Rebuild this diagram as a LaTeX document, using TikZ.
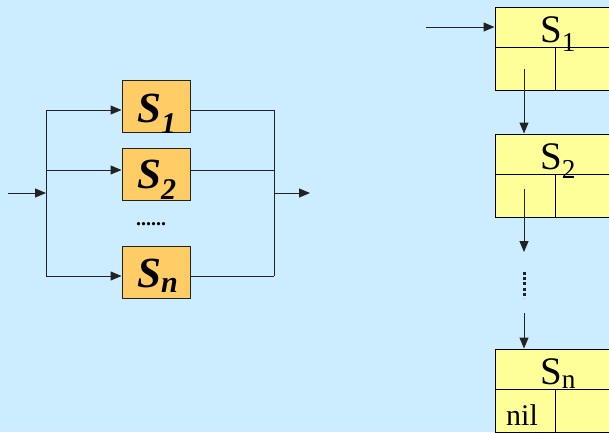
\documentclass[tikz,border=0pt]{standalone}
\usepackage{fontspec}
\setmainfont{Liberation Serif}
\usetikzlibrary{arrows.meta,calc}
\definecolor{bg}{HTML}{CCECFF}
\definecolor{obox}{HTML}{FFCC66}
\definecolor{ybox}{HTML}{FFFF99}
\definecolor{ln}{HTML}{222222}
\begin{document}
\begin{tikzpicture}[x=1pt,y=-1pt,
  conn/.style={draw=ln,line width=1pt},
  arr/.style={conn,-{Triangle[length=11pt,width=9pt]}},
  sbox/.style={draw=ln,line width=1pt,fill=obox,minimum width=68pt,minimum height=52pt,inner sep=0pt},
  slab/.style={inner sep=0pt,anchor=base west,font=\fontsize{43}{44}\selectfont\bfseries\itshape},
  rbox/.style={draw=black,line width=1pt,fill=ybox,minimum width=145pt,minimum height=83pt,inner sep=0pt},
  rlab/.style={inner sep=0pt,anchor=base west,font=\fontsize{39}{40}\selectfont}
]
\clip (0,0) rectangle (609,432);
\fill[bg] (0,0) rectangle (609,432);
% ---------- left: parallel structure ----------
\node[sbox] (s1) at (156,106) {};
\node[sbox] (s2) at (156,174.5) {};
\node[sbox] (sn) at (156,272.5) {};
\node[slab] (l1) at (137,122) {S\textsubscript{1}};
\node[slab] (l2) at (137,188) {S\textsubscript{2}};
\node[slab] (ln) at (137,287) {S\textsubscript{n}};
\node[inner sep=0pt,anchor=base west,font=\fontsize{20}{20}\selectfont\bfseries] (dots) at (136,225) {......};
\coordinate (in) at (8,193);
\coordinate (split) at (46,193);
\coordinate (a1) at (46,110);
\coordinate (a2) at (46,170);
\coordinate (an) at (46,276);
\coordinate (b1) at (274,110);
\coordinate (b2) at (274,170);
\coordinate (bn) at (274,276);
\coordinate (join) at (274,193);
\coordinate (out) at (310,193);
\draw[arr] (in) -- (split);
\draw[conn] (a1) -- (an);
\draw[arr] (a1) -- (a1 -| s1.west);
\draw[arr] (a2) -- (a2 -| s2.west);
\draw[arr] (an) -- (an -| sn.west);
\draw[conn] (b1 -| s1.east) -- (b1);
\draw[conn] (b2 -| s2.east) -- (b2);
\draw[conn] (bn -| sn.east) -- (bn);
\draw[conn] (b1) -- (bn);
\draw[arr] (join) -- (out);
% ---------- right: linked list ----------
\node[rbox] (r1) at (567.5,48.5) {};
\node[rbox] (r2) at (567.5,175.5) {};
\node[rbox] (r3) at (567.5,390.5) {};
\foreach \r in {r1,r2,r3}{
  \draw[black,line width=1pt] ($(\r.north west)+(0,41)$) -- ($(\r.north east)+(0,41)$);
  \draw[black,line width=1pt] ($(\r.north west)+(61,41)$) -- ($(\r.south west)+(61,0)$);
}
\node[rlab] (t1) at (540,42) {S\textsubscript{1}};
\node[rlab] (t2) at (540,169) {S\textsubscript{2}};
\node[rlab] (t3) at (540,384) {S\textsubscript{n}};
\node[inner sep=0pt,anchor=base west,font=\fontsize{30}{32}\selectfont] (nil) at (506,425) {nil};
\coordinate (rin) at (426,27);
\coordinate (p1) at (524,69);
\coordinate (p2) at (524,189);
\coordinate (p2e) at (524,252);
\coordinate (d1) at (524,272);
\coordinate (d2) at (524,298);
\coordinate (p3) at (524,313);
\draw[arr] (rin) -- (rin -| r1.west);
\draw[arr] (p1) -- (p1 |- r2.north);
\draw[arr] (p2) -- (p2e);
\draw[draw=ln,line width=3pt,dash pattern=on 3pt off 2.2pt] (d1) -- (d2);
\draw[arr] (p3) -- (p3 |- r3.north);
\end{tikzpicture}
\end{document}
